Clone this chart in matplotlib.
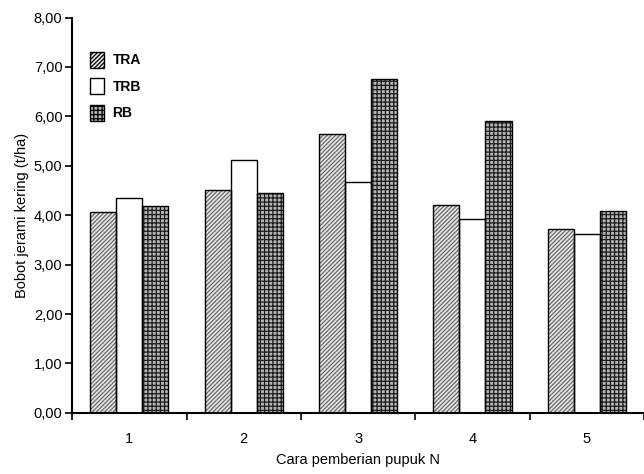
import matplotlib
matplotlib.use("Agg")
import matplotlib.pyplot as plt
import matplotlib.ticker as ticker
import numpy as np

plt.rcParams["font.family"] = ["Liberation Sans", "DejaVu Sans"]
plt.rcParams["hatch.linewidth"] = 0.9

categories = ["1", "2", "3", "4", "5"]
series_names = ["TRA", "TRB", "RB"]
tra = [4.07, 4.50, 5.65, 4.20, 3.72]
trb = [4.34, 5.11, 4.68, 3.93, 3.62]
rb = [4.18, 4.45, 6.75, 5.90, 4.09]

values = [tra, trb, rb]
faces = ["#e6e6e6", "white", "#b4b4b4"]
hatches = ["////////", None, "++++"]
hatch_colors = ["#6a6a6a", "black", "#1e1e1e"]

fig = plt.figure(figsize=(6.44, 4.74), dpi=100)
ax = fig.add_axes([0.112, 0.129, 0.888, 0.834])

x = np.arange(1, len(categories) + 1)
width = 0.228

for i, name in enumerate(series_names):
    pos = x + (i - 1) * width
    ax.bar(pos, values[i], width, facecolor=faces[i], edgecolor=hatch_colors[i],
           hatch=hatches[i], linewidth=0, label=name, zorder=2)
    # black outline on top of the hatch
    ax.bar(pos, values[i], width, facecolor="none", edgecolor="black", linewidth=1.0, zorder=3)

ax.set_xlim(0.5, 5.5)
ax.set_ylim(0, 8)

ax.yaxis.set_major_locator(ticker.MultipleLocator(1))
ax.yaxis.set_major_formatter(ticker.FuncFormatter(lambda v, p: f"{v:.2f}".replace(".", ",")))

# ticks between categories, labels at centres
ax.set_xticks(np.arange(0.5, 6.0, 1.0))
ax.set_xticklabels([])
ax.set_xticks(x, minor=True)
ax.set_xticklabels(categories, minor=True)
ax.tick_params(axis="x", which="major", direction="out", length=5, width=1.2)
ax.tick_params(axis="x", which="minor", length=0, pad=14, labelsize=10.5)
ax.tick_params(axis="y", direction="out", length=5, width=1.2, labelsize=10.5, pad=2)

for s in ["top", "right"]:
    ax.spines[s].set_visible(False)
ax.spines["left"].set_linewidth(1.5)
ax.spines["bottom"].set_linewidth(1.5)

ax.set_xlabel("Cara pemberian pupuk N", fontsize=10.5, labelpad=5)
ax.set_ylabel("Bobot jerami kering (t/ha)", fontsize=10.5, labelpad=3)

handles, labels = ax.get_legend_handles_labels()
leg = ax.legend(handles, labels, loc="upper left", bbox_to_anchor=(0.01, 0.945), frameon=False,
                handlelength=1.0, handleheight=1.4, labelspacing=0.75, handletextpad=0.6,
                prop={"weight": "bold", "size": 10})
for p in leg.get_patches():
    p.set_edgecolor("black")
    p.set_linewidth(1.0)

fig.savefig("out.png", dpi=100)
